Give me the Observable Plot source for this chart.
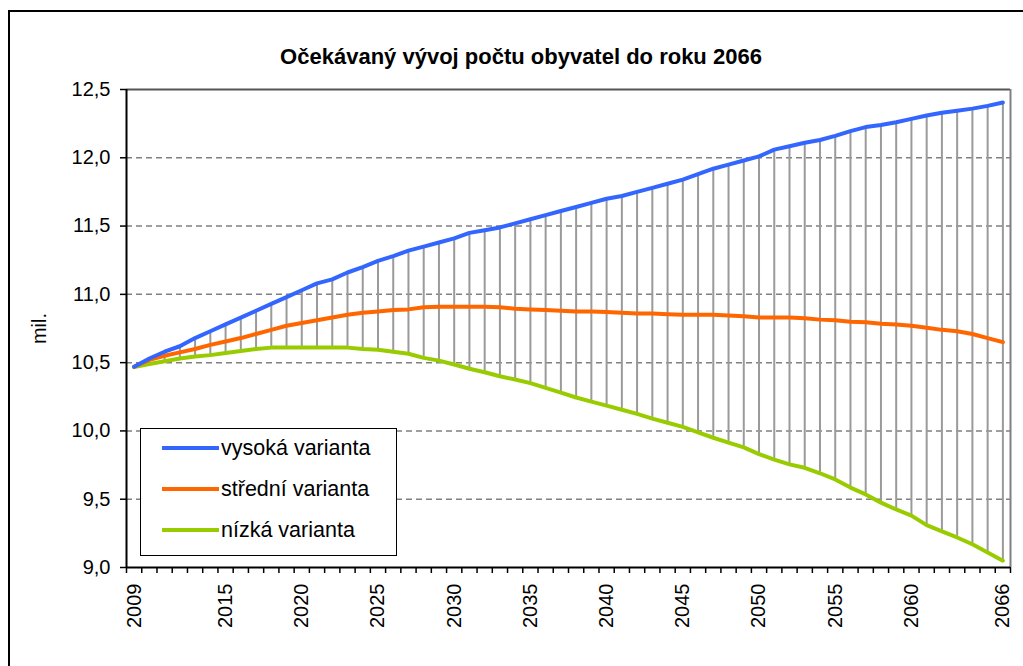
<!DOCTYPE html>
<html><head><meta charset="utf-8">
<script src="https://cdn.jsdelivr.net/npm/d3@7"></script>
<script src="https://cdn.jsdelivr.net/npm/@observablehq/plot@0.6"></script>
<style>
body{margin:0;background:#fff;overflow:hidden;font-family:"Liberation Sans",Arial,sans-serif;}
#wrap{position:relative;width:1023px;height:666px;overflow:hidden;}
#border{position:absolute;left:8px;top:10px;width:1100px;height:700px;border:2px solid #000;box-sizing:border-box;}
#chart{position:absolute;left:0;top:0;}
#title{position:absolute;left:0;width:1042px;top:44px;text-align:center;font-weight:bold;font-size:22px;line-height:26px;color:#000;}
#legend{position:absolute;left:140px;top:428px;width:257px;height:128px;border:1.5px solid #000;background:#fff;box-sizing:border-box;}
.item{position:absolute;left:21px;height:24px;display:flex;align-items:center;font-size:21.5px;color:#000;white-space:nowrap;}
.sw{width:57px;height:4px;margin-right:2px;}
</style>
</head><body>
<div id="wrap">
  <div id="border"></div>
  <div id="chart"></div>
  <div id="title"></div>
  <div id="legend"></div>
</div>
<script>
const title = "Očekávaný vývoj počtu obyvatel do roku 2066";
const yLabel = "mil.";
const years = d3.range(2009, 2067);
const seriesNames = ["vysoká varianta", "střední varianta", "nízká varianta"];
const seriesColors = ["#3366ff", "#ff6600", "#99cc00"];
const high = [
  10.47, 10.53, 10.58, 10.62, 10.68, 10.73, 10.78, 10.83, 10.88, 10.93,
  10.98, 11.03, 11.08, 11.11, 11.16, 11.20, 11.245, 11.28, 11.32, 11.35,
  11.38, 11.41, 11.45, 11.47, 11.49, 11.52, 11.55, 11.58, 11.61, 11.64,
  11.67, 11.70, 11.72, 11.75, 11.78, 11.81, 11.84, 11.88, 11.92, 11.95,
  11.98, 12.01, 12.06, 12.085, 12.11, 12.13, 12.16, 12.195, 12.225, 12.24,
  12.26, 12.285, 12.31, 12.33, 12.345, 12.36, 12.38, 12.405
];
const medium = [
  10.47, 10.52, 10.55, 10.575, 10.60, 10.63, 10.655, 10.68, 10.71, 10.74,
  10.77, 10.79, 10.81, 10.83, 10.85, 10.865, 10.875, 10.885, 10.89, 10.905,
  10.91, 10.91, 10.91, 10.91, 10.905, 10.895, 10.89, 10.885, 10.88, 10.875,
  10.875, 10.87, 10.865, 10.86, 10.86, 10.855, 10.85, 10.85, 10.85, 10.845,
  10.84, 10.83, 10.83, 10.83, 10.825, 10.815, 10.81, 10.80, 10.795, 10.785,
  10.78, 10.77, 10.755, 10.74, 10.73, 10.71, 10.68, 10.65
];
const low = [
  10.467, 10.49, 10.51, 10.53, 10.545, 10.555, 10.57, 10.585, 10.60, 10.61,
  10.61, 10.61, 10.61, 10.61, 10.61, 10.60, 10.595, 10.58, 10.565, 10.535,
  10.515, 10.486, 10.455, 10.43, 10.40, 10.376, 10.35, 10.315, 10.28, 10.245,
  10.215, 10.185, 10.155, 10.125, 10.09, 10.06, 10.03, 9.99, 9.95, 9.915,
  9.88, 9.83, 9.79, 9.755, 9.73, 9.69, 9.645, 9.585, 9.535, 9.475,
  9.425, 9.38, 9.31, 9.265, 9.22, 9.17, 9.11, 9.05
];
const yTicks = [9.0, 9.5, 10.0, 10.5, 11.0, 11.5, 12.0, 12.5];
const gridTicks = [9.5, 10.0, 10.5, 11.0, 11.5, 12.0];
const xLabelYears = [2009, 2015, 2020, 2025, 2030, 2035, 2040, 2045, 2050, 2055, 2060, 2066];

const xMin = years[0] - 0.5, xMax = years[years.length - 1] + 0.5;
const boundaries = years.map(y => y - 0.5).concat([xMax]);
const rows = years.map((yr, i) => ({year: yr, high: high[i], medium: medium[i], low: low[i]}));
const fmt = d => d.toFixed(1).replace(".", ",");

const chart = Plot.plot({
  width: 1023, height: 666,
  marginLeft: 126, marginRight: 13, marginTop: 89, marginBottom: 99,
  style: {fontFamily: '"Liberation Sans", Arial, sans-serif', fontSize: "20px", background: "transparent", color: "#000"},
  x: {domain: [xMin, xMax], label: null},
  y: {domain: [9, 12.5], label: null},
  marks: [
    Plot.gridY(gridTicks, {stroke: "#808080", strokeOpacity: 1, strokeWidth: 1.5, strokeDasharray: "6,4"}),
    Plot.ruleX(rows, {x: "year", y1: "low", y2: "high", stroke: "#9a9a9a", strokeWidth: 2}),
    Plot.ruleY([12.5], {stroke: "#555", strokeWidth: 2}),
    Plot.ruleX([xMax], {stroke: "#808080", strokeWidth: 2}),
    Plot.line(rows, {x: "year", y: "low", stroke: seriesColors[2], strokeWidth: 4}),
    Plot.line(rows, {x: "year", y: "medium", stroke: seriesColors[1], strokeWidth: 4}),
    Plot.line(rows, {x: "year", y: "high", stroke: seriesColors[0], strokeWidth: 4}),
    Plot.ruleX([xMin], {stroke: "#000", strokeWidth: 2}),
    Plot.ruleY([9], {stroke: "#000", strokeWidth: 2}),
    Plot.axisY({ticks: yTicks, tickSize: 6, tickPadding: 10, tickFormat: fmt, strokeWidth: 1.5,
      label: yLabel, labelAnchor: "center", labelArrow: "none", labelOffset: 95}),
    Plot.axisX({ticks: boundaries, tickSize: 6, tickFormat: () => "", strokeWidth: 1.5, label: null}),
    Plot.axisX({ticks: xLabelYears, tickSize: 0, tickRotate: -90, tickPadding: 16, tickFormat: d => String(d), label: null})
  ]
});
document.getElementById("chart").appendChild(chart);
document.getElementById("title").textContent = title;

const legend = document.getElementById("legend");
const legendTops = [7, 48, 89];
seriesNames.forEach((name, i) => {
  const item = document.createElement("div");
  item.className = "item";
  item.style.top = legendTops[i] + "px";
  const sw = document.createElement("span");
  sw.className = "sw";
  sw.style.background = seriesColors[i];
  const tx = document.createElement("span");
  tx.textContent = name;
  item.appendChild(sw); item.appendChild(tx);
  legend.appendChild(item);
});
</script>
</body></html>
